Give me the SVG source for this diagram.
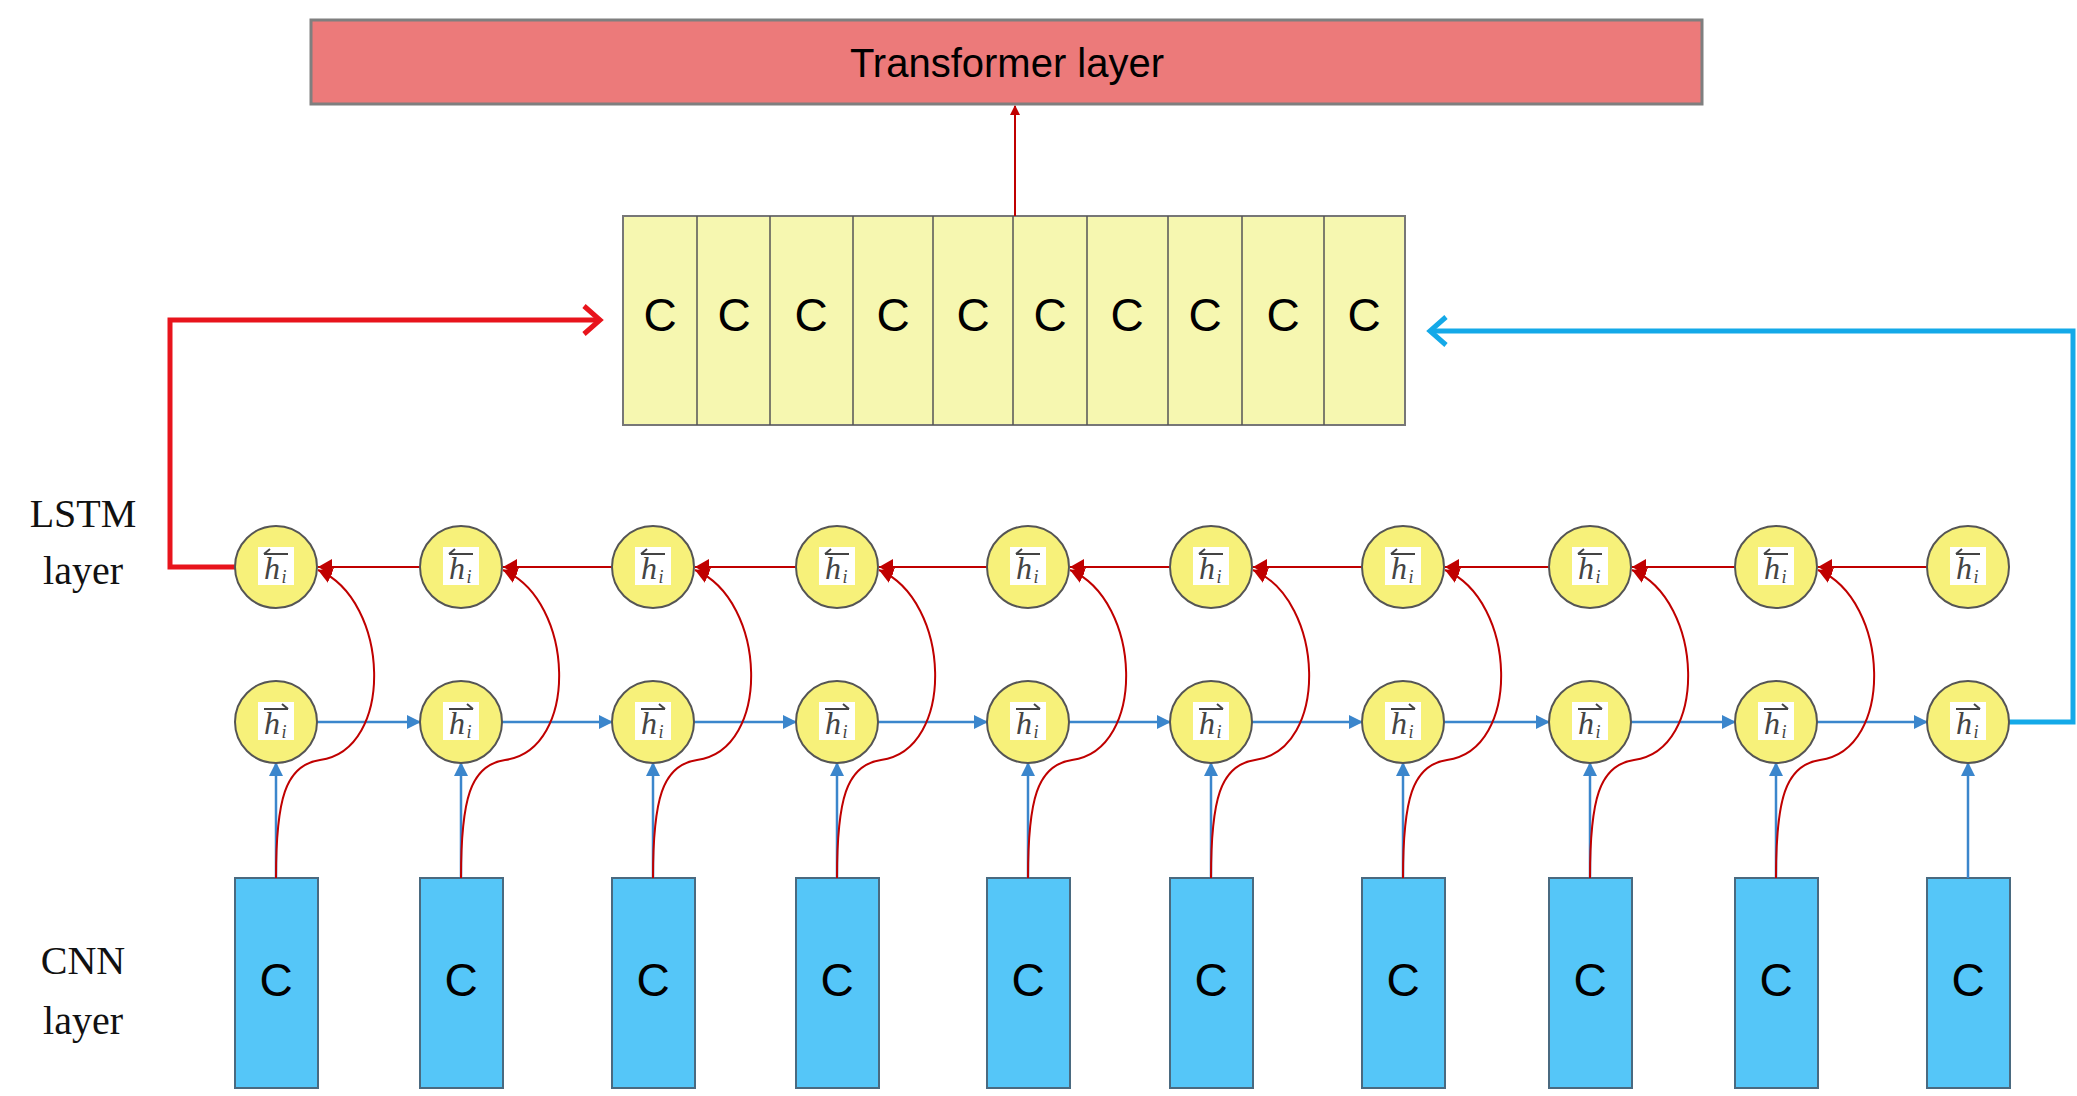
<svg xmlns="http://www.w3.org/2000/svg" width="2077" height="1096" viewBox="0 0 2077 1096">
<defs>
<marker id="ar" markerWidth="10" markerHeight="10" refX="9" refY="5" orient="auto" markerUnits="userSpaceOnUse" viewBox="0 0 10 10"><path d="M0,0 L10,5 L0,10 z" fill="#c00000"/></marker>
<marker id="ab" markerWidth="14" markerHeight="14" refX="13" refY="7" orient="auto" markerUnits="userSpaceOnUse" viewBox="0 0 14 14"><path d="M0,0 L14,7 L0,14 z" fill="#3b86cc"/></marker>
<marker id="arr" markerWidth="16" markerHeight="16" refX="14" refY="8" orient="auto" markerUnits="userSpaceOnUse" viewBox="0 0 16 16"><path d="M0,0 L14,8 L0,16 z" fill="#c00000"/></marker>
<g id="hb"><rect x="-18" y="-20" width="36" height="38" fill="#fff"/><text x="-4" y="12" class="h">h</text><text x="8" y="16" class="i">i</text><path d="M-12,-13 H12 M-12,-13 l6,-5" stroke="#444" stroke-width="2" fill="none"/></g>
<g id="hf"><rect x="-18" y="-20" width="36" height="38" fill="#fff"/><text x="-4" y="12" class="h">h</text><text x="8" y="16" class="i">i</text><path d="M-12,-13 H12 M12,-13 l-6,-5" stroke="#444" stroke-width="2" fill="none"/></g>
</defs>
<style>
.h{font-family:"Liberation Serif",serif;font-style:italic;font-size:32px;fill:#444;text-anchor:middle}
.i{font-family:"Liberation Serif",serif;font-style:italic;font-size:18px;fill:#444;text-anchor:middle}
.c{font-family:"Liberation Sans",Arial,sans-serif;font-size:46px;fill:#000;text-anchor:middle}
.lab{font-family:"Liberation Serif",serif;font-size:40px;fill:#111;text-anchor:middle}
.node{fill:#f7f17a;stroke:#555;stroke-width:2}
.cnn{fill:#55c6f8;stroke:#4a6a80;stroke-width:2}
.tr{stroke:#3b86cc;stroke-width:2.5;fill:none}
.rr{stroke:#c00000;stroke-width:2;fill:none}
</style>
<rect width="2077" height="1096" fill="#fff"/>
<g id="transformer"><rect x="311" y="20" width="1391" height="84" fill="#ec7a7a" stroke="#7f7f7f" stroke-width="3"/><text x="1007" y="77" class="c" style="font-size:40px">Transformer layer</text></g>
<g id="concat">
<rect x="623" y="216" width="782" height="209" fill="#f6f7b0" stroke="#777" stroke-width="2"/>
<path d="M697,216V425M770,216V425M853,216V425M933,216V425M1013,216V425M1087,216V425M1168,216V425M1242,216V425M1324,216V425" stroke="#555" stroke-width="1.5"/>
<text y="331" class="c"><tspan x="660">C</tspan><tspan x="734">C</tspan><tspan x="811">C</tspan><tspan x="893">C</tspan><tspan x="973">C</tspan><tspan x="1050">C</tspan><tspan x="1127">C</tspan><tspan x="1205">C</tspan><tspan x="1283">C</tspan><tspan x="1364">C</tspan></text>
</g>
<g id="labels"><text x="83" y="527" class="lab">LSTM</text><text x="83" y="584" class="lab">layer</text><text x="83" y="974" class="lab">CNN</text><text x="83" y="1034" class="lab">layer</text></g>
<g id="cnn">
<g><rect x="235" y="878" width="83" height="210" class="cnn"/><text x="276" y="996" class="c">C</text></g>
<g><rect x="420" y="878" width="83" height="210" class="cnn"/><text x="461" y="996" class="c">C</text></g>
<g><rect x="612" y="878" width="83" height="210" class="cnn"/><text x="653" y="996" class="c">C</text></g>
<g><rect x="796" y="878" width="83" height="210" class="cnn"/><text x="837" y="996" class="c">C</text></g>
<g><rect x="987" y="878" width="83" height="210" class="cnn"/><text x="1028" y="996" class="c">C</text></g>
<g><rect x="1170" y="878" width="83" height="210" class="cnn"/><text x="1211" y="996" class="c">C</text></g>
<g><rect x="1362" y="878" width="83" height="210" class="cnn"/><text x="1403" y="996" class="c">C</text></g>
<g><rect x="1549" y="878" width="83" height="210" class="cnn"/><text x="1590" y="996" class="c">C</text></g>
<g><rect x="1735" y="878" width="83" height="210" class="cnn"/><text x="1776" y="996" class="c">C</text></g>
<g><rect x="1927" y="878" width="83" height="210" class="cnn"/><text x="1968" y="996" class="c">C</text></g>
</g>
<g id="connectors">
<path d="M1015,216V106" stroke="#c00000" stroke-width="2" marker-end="url(#ar)"/>
<path d="M235,567H170V320H598" stroke="#e8141c" stroke-width="5" fill="none"/>
<path d="M584,306L600,320L584,334" stroke="#e8141c" stroke-width="5" fill="none"/>
<path d="M2009,722H2073V331H1430" stroke="#14a9e8" stroke-width="5" fill="none"/>
<path d="M1446,317L1430,331L1446,345" stroke="#14a9e8" stroke-width="5" fill="none"/>
<g id="vert">
<path d="M276,878V763" class="tr" marker-end="url(#ab)"/><path d="M461,878V763" class="tr" marker-end="url(#ab)"/><path d="M653,878V763" class="tr" marker-end="url(#ab)"/><path d="M837,878V763" class="tr" marker-end="url(#ab)"/><path d="M1028,878V763" class="tr" marker-end="url(#ab)"/><path d="M1211,878V763" class="tr" marker-end="url(#ab)"/><path d="M1403,878V763" class="tr" marker-end="url(#ab)"/><path d="M1590,878V763" class="tr" marker-end="url(#ab)"/><path d="M1776,878V763" class="tr" marker-end="url(#ab)"/><path d="M1968,878V763" class="tr" marker-end="url(#ab)"/>
</g>
<g id="fwd">
<path d="M317,722H420" class="tr" marker-end="url(#ab)"/><path d="M502,722H612" class="tr" marker-end="url(#ab)"/><path d="M694,722H796" class="tr" marker-end="url(#ab)"/><path d="M878,722H987" class="tr" marker-end="url(#ab)"/><path d="M1069,722H1170" class="tr" marker-end="url(#ab)"/><path d="M1252,722H1362" class="tr" marker-end="url(#ab)"/><path d="M1444,722H1549" class="tr" marker-end="url(#ab)"/><path d="M1631,722H1735" class="tr" marker-end="url(#ab)"/><path d="M1817,722H1927" class="tr" marker-end="url(#ab)"/>
</g>
<g id="bwd">
<path d="M420,567H318" class="rr" marker-end="url(#arr)"/><path d="M612,567H503" class="rr" marker-end="url(#arr)"/><path d="M796,567H695" class="rr" marker-end="url(#arr)"/><path d="M987,567H879" class="rr" marker-end="url(#arr)"/><path d="M1170,567H1070" class="rr" marker-end="url(#arr)"/><path d="M1362,567H1253" class="rr" marker-end="url(#arr)"/><path d="M1549,567H1445" class="rr" marker-end="url(#arr)"/><path d="M1735,567H1632" class="rr" marker-end="url(#arr)"/><path d="M1927,567H1818" class="rr" marker-end="url(#arr)"/>
</g>
<g id="curves">
<path d="M276,878 C276,800 285,765 320,760 C395,750 390,600 318,570" class="rr" marker-end="url(#arr)"/>
<path d="M461,878 C461,800 470,765 505,760 C580,750 575,600 503,570" class="rr" marker-end="url(#arr)"/>
<path d="M653,878 C653,800 662,765 697,760 C772,750 767,600 695,570" class="rr" marker-end="url(#arr)"/>
<path d="M837,878 C837,800 846,765 881,760 C956,750 951,600 879,570" class="rr" marker-end="url(#arr)"/>
<path d="M1028,878 C1028,800 1037,765 1072,760 C1147,750 1142,600 1070,570" class="rr" marker-end="url(#arr)"/>
<path d="M1211,878 C1211,800 1220,765 1255,760 C1330,750 1325,600 1253,570" class="rr" marker-end="url(#arr)"/>
<path d="M1403,878 C1403,800 1412,765 1447,760 C1522,750 1517,600 1445,570" class="rr" marker-end="url(#arr)"/>
<path d="M1590,878 C1590,800 1599,765 1634,760 C1709,750 1704,600 1632,570" class="rr" marker-end="url(#arr)"/>
<path d="M1776,878 C1776,800 1785,765 1820,760 C1895,750 1890,600 1818,570" class="rr" marker-end="url(#arr)"/>
</g>
</g>
<g id="lstm">
<g id="b1"><circle cx="276" cy="567" r="41" class="node"/><use href="#hb" x="276" y="567"/></g>
<g id="b2"><circle cx="461" cy="567" r="41" class="node"/><use href="#hb" x="461" y="567"/></g>
<g id="b3"><circle cx="653" cy="567" r="41" class="node"/><use href="#hb" x="653" y="567"/></g>
<g id="b4"><circle cx="837" cy="567" r="41" class="node"/><use href="#hb" x="837" y="567"/></g>
<g id="b5"><circle cx="1028" cy="567" r="41" class="node"/><use href="#hb" x="1028" y="567"/></g>
<g id="b6"><circle cx="1211" cy="567" r="41" class="node"/><use href="#hb" x="1211" y="567"/></g>
<g id="b7"><circle cx="1403" cy="567" r="41" class="node"/><use href="#hb" x="1403" y="567"/></g>
<g id="b8"><circle cx="1590" cy="567" r="41" class="node"/><use href="#hb" x="1590" y="567"/></g>
<g id="b9"><circle cx="1776" cy="567" r="41" class="node"/><use href="#hb" x="1776" y="567"/></g>
<g id="b10"><circle cx="1968" cy="567" r="41" class="node"/><use href="#hb" x="1968" y="567"/></g>
<g id="f1"><circle cx="276" cy="722" r="41" class="node"/><use href="#hf" x="276" y="722"/></g>
<g id="f2"><circle cx="461" cy="722" r="41" class="node"/><use href="#hf" x="461" y="722"/></g>
<g id="f3"><circle cx="653" cy="722" r="41" class="node"/><use href="#hf" x="653" y="722"/></g>
<g id="f4"><circle cx="837" cy="722" r="41" class="node"/><use href="#hf" x="837" y="722"/></g>
<g id="f5"><circle cx="1028" cy="722" r="41" class="node"/><use href="#hf" x="1028" y="722"/></g>
<g id="f6"><circle cx="1211" cy="722" r="41" class="node"/><use href="#hf" x="1211" y="722"/></g>
<g id="f7"><circle cx="1403" cy="722" r="41" class="node"/><use href="#hf" x="1403" y="722"/></g>
<g id="f8"><circle cx="1590" cy="722" r="41" class="node"/><use href="#hf" x="1590" y="722"/></g>
<g id="f9"><circle cx="1776" cy="722" r="41" class="node"/><use href="#hf" x="1776" y="722"/></g>
<g id="f10"><circle cx="1968" cy="722" r="41" class="node"/><use href="#hf" x="1968" y="722"/></g>
</g>
</svg>
